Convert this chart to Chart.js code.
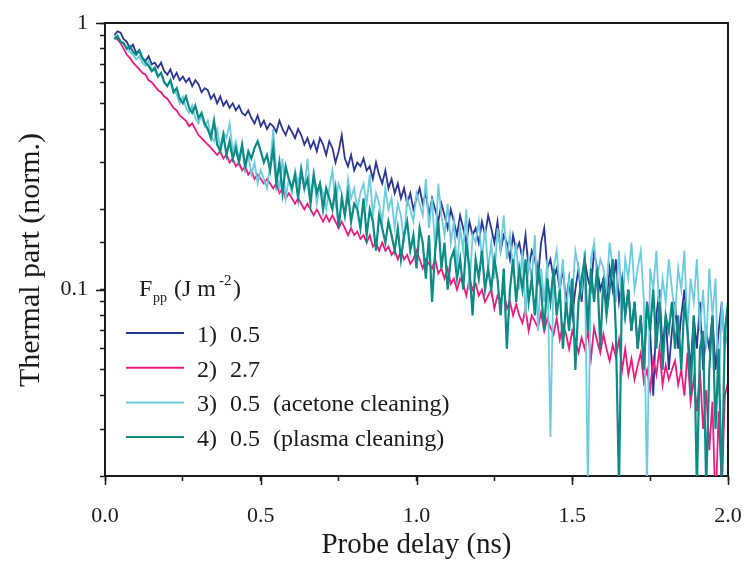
<!DOCTYPE html>
<html>
<head>
<meta charset="utf-8">
<script src="https://cdn.jsdelivr.net/npm/chart.js@4.4.1/dist/chart.umd.min.js"></script>
<style>
  html, body { margin: 0; padding: 0; background: #fff; }
  #wrap { width: 745px; height: 563px; }
</style>
</head>
<body>
<div id="wrap"><canvas id="thermalChart" width="745" height="563"></canvas></div>
<script>
// probe delay grid in ns: 0.03 ... 2.00, step 0.01
const delays = Array.from({ length: 198 }, (_, i) => +(0.03 + i * 0.01).toFixed(2))

const fluence05 = [
  .90,.93,.92,.87,.85,.80,.83,.77,.79,.74,
  .72,.75,.70,.71,.68,.71,.66,.64,.67,.62,
  .65,.61,.63,.60,.62,.58,.61,.59,.55,.57,
  .56,.52,.54,.50,.53,.49,.51,.48,.50,.47,
  .49,.46,.45,.47,.44,.42,.45,.41,.43,.40,
  .42,.41,.39,.43,.40,.38,.41,.39,.37,.40,
  .38,.35,.37,.34,.36,.33,.37,.35,.32,.36,
  .34,.30,.33,.38,.31,.29,.32,.28,.30,.29,
  .31,.28,.29,.26,.30,.27,.25,.28,.24,.26,
  .23,.25,.22,.24,.21,.23,.20,.22,.24,.21,
  .23,.19,.22,.20,.18,.21,.19,.17,.20,.18,
  .16,.19,.17,.15,.18,.16,.17,.15,.18,.16,
  .19,.17,.15,.18,.14,.16,.15,.13,.16,.14,
  .15,.13,.16,.12,.14,.13,.11,.15,.17,.12,
  .13,.11,.12,.10,.12,.09,.11,.08,.10,.12,
  .09,.13,.11,.10,.14,.12,.10,.11,.09,.12,
  .10,.13,.09,.11,.08,.10,.07,.09,.06,.08,
  .05,.09,.07,.04,.08,.10,.06,.08,.05,.07,
  .09,.06,.08,.10,.07,.05,.08,.06,.09,.05,
  .07,.06,.08,.05,.07,.09,.06,.08
]

const fluence27 = [
  .88,.87,.84,.80,.76,.74,.71,.69,.67,.65,
  .64,.61,.60,.58,.56,.55,.53,.52,.50,.48,
  .47,.45,.44,.43,.41,.42,.40,.38,.37,.36,
  .35,.34,.33,.32,.33,.31,.32,.30,.31,.29,
  .30,.28,.29,.27,.28,.26,.27,.26,.25,.26,
  .25,.24,.25,.23,.24,.22,.23,.22,.21,.22,
  .21,.20,.21,.20,.19,.20,.19,.18,.19,.18,
  .19,.18,.17,.18,.17,.16,.17,.16,.165,.155,
  .16,.15,.16,.145,.15,.14,.15,.14,.145,.135,
  .14,.13,.14,.13,.135,.125,.13,.14,.13,.12,
  .13,.125,.12,.13,.115,.12,.11,.12,.105,.11,
  .10,.11,.105,.095,.11,.10,.105,.095,.10,.09,
  .095,.10,.085,.095,.09,.10,.085,.09,.08,.088,
  .08,.075,.085,.07,.08,.076,.072,.082,.07,.078,
  .072,.068,.078,.065,.074,.068,.06,.07,.064,.058,
  .066,.06,.07,.055,.072,.064,.058,.068,.06,.054,
  .062,.056,.065,.05,.06,.048,.055,.046,.052,.058,
  .045,.05,.042,.055,.048,.06,.044,.052,.046,.05,
  .054,.044,.05,.04,.058,.038,.046,.035,.05,.03,
  .042,.025,.038,.015,.035,.018,.04,.045
]

const acetone05 = [
  .88,.90,.86,.83,.80,.78,.76,.73,.75,.71,
  .69,.72,.67,.66,.63,.65,.60,.58,.61,.56,
  .54,.50,.53,.48,.46,.49,.44,.42,.45,.41,
  .43,.38,.36,.40,.34,.39,.37,.42,.33,.36,
  .31,.34,.28,.32,.27,.30,.25,.28,.26,.24,
  .29,.40,.27,.24,.31,.22,.26,.23,.28,.25,
  .29,.24,.31,.22,.27,.21,.25,.23,.20,.24,
  .28,.21,.25,.23,.19,.26,.22,.24,.20,.23,
  .25,.21,.27,.19,.23,.21,.18,.24,.20,.22,
  .17,.21,.19,.15,.22,.20,.18,.23,.21,.19,
  .26,.17,.22,.14,.25,.19,.16,.21,.15,.18,
  .12,.17,.14,.20,.10,.16,.15,.18,.13,.17,
  .12,.15,.11,.17,.14,.19,.13,.16,.12,.15,
  .10,.14,.08,.13,.11,.16,.07,.12,.09,.13,
  .028,.12,.14,.10,.13,.08,.11,.095,.14,.12,
  .10,.14,.018,.13,.15,.11,.13,.12,.10,.15,
  .12,.09,.14,.08,.13,.11,.15,.10,.12,.14,
  .09,.018,.12,.10,.14,.08,.11,.09,.13,.10,
  .08,.12,.10,.14,.07,.11,.09,.13,.07,.10,
  .06,.12,.08,.11,.04,.09,.06,.08
]

const plasma05 = [
  .87,.89,.85,.84,.80,.82,.78,.76,.79,.74,
  .71,.69,.66,.68,.63,.65,.60,.58,.61,.55,
  .57,.52,.50,.53,.48,.46,.49,.44,.46,.42,
  .40,.37,.43,.35,.33,.38,.32,.36,.31,.34,
  .30,.35,.29,.33,.31,.34,.36,.33,.30,.32,
  .28,.34,.25,.30,.23,.29,.26,.24,.27,.22,
  .28,.24,.26,.21,.27,.23,.25,.20,.24,.22,
  .20,.24,.17,.22,.19,.23,.18,.21,.20,.17,
  .22,.16,.20,.18,.14,.19,.17,.15,.18,.16,
  .14,.17,.13,.16,.18,.14,.16,.12,.17,.15,
  .11,.16,.09,.14,.18,.12,.15,.10,.13,.14,
  .11,.13,.10,.15,.12,.08,.13,.11,.14,.10,
  .12,.10,.13,.11,.08,.12,.06,.10,.13,.09,
  .12,.10,.13,.09,.11,.08,.12,.10,.07,.11,
  .09,.12,.08,.10,.06,.09,.07,.11,.05,.09,
  .11,.13,.07,.12,.09,.12,.06,.11,.08,.10,
  .13,.07,.018,.11,.08,.10,.07,.09,.06,.08,
  .05,.09,.07,.10,.06,.09,.05,.08,.07,.09,
  .06,.08,.05,.09,.07,.04,.08,.018,.06,.07,
  .018,.05,.08,.03,.06,.018,.07,.09
]

const legendNums = ['1)', '2)', '3)', '4)']
const legendFluence = ['0.5', '2.7', '0.5', '0.5']
const legendNotes = ['', '', '(acetone cleaning)', '(plasma cleaning)']
const colors = ['#2b3593', '#ec1c7e', '#6ccbdf', '#0c8a84']

const yMajor = [1, 0.1]
const xMajor = [0, 0.5, 1, 1.5, 2]
const yTitle = 'Thermal part (norm.)'

const serif = "'Liberation Serif', 'Times New Roman', serif"
const ink = '#1a1a1a'
const series = [fluence05, fluence27, acetone05, plasma05]

const isMajorY = (v) => yMajor.some((m) => Math.abs(v - m) < 1e-9)
const isMajorX = (v) => xMajor.some((m) => Math.abs(v - m) < 1e-9)

// frame, longer major ticks, y title and legend
const extras = {
  id: 'extras',
  afterDraw(chart) {
    const { ctx, chartArea: a, scales } = chart
    ctx.save()
    ctx.strokeStyle = ink
    ctx.lineWidth = 2
    ctx.beginPath()
    ctx.moveTo(a.left, a.top)
    ctx.lineTo(a.right, a.top)
    ctx.lineTo(a.right, a.bottom)
    ctx.stroke()

    ctx.lineWidth = 1.5
    ctx.beginPath()
    yMajor.forEach((v) => {
      const y = Math.round(scales.y.getPixelForValue(v)) + 0.5
      ctx.moveTo(a.left - 9, y)
      ctx.lineTo(a.left, y)
    })
    xMajor.forEach((v) => {
      const x = Math.round(scales.x.getPixelForValue(v)) + 0.5
      ctx.moveTo(x, a.bottom)
      ctx.lineTo(x, a.bottom + 9)
    })
    ctx.stroke()

    ctx.fillStyle = ink
    ctx.save()
    ctx.translate(31, 260)
    ctx.rotate(-Math.PI / 2)
    ctx.textAlign = 'center'
    ctx.textBaseline = 'middle'
    ctx.font = '30px ' + serif
    ctx.fillText(yTitle, 0, 0)
    ctx.restore()

    // legend
    ctx.textBaseline = 'alphabetic'
    ctx.font = '24px ' + serif
    ctx.fillText('F', 139, 296)
    ctx.font = '14px ' + serif
    ctx.fillText('pp', 153, 302)
    ctx.font = '24px ' + serif
    ctx.fillText('(J m', 174, 296)
    ctx.font = '15px ' + serif
    ctx.fillText('-2', 219, 285)
    ctx.font = '24px ' + serif
    ctx.fillText(')', 233, 296)

    chart.data.datasets.forEach((ds, i) => {
      const y = 333 + i * 34.7
      ctx.strokeStyle = ds.borderColor
      ctx.lineWidth = 2
      ctx.beginPath()
      ctx.moveTo(126, y)
      ctx.lineTo(184, y)
      ctx.stroke()
      ctx.font = '24px ' + serif
      ctx.fillStyle = ink
      ctx.fillText(legendNums[i], 197, y + 9)
      ctx.fillText(legendFluence[i], 230, y + 9)
      if (legendNotes[i]) ctx.fillText(legendNotes[i], 273, y + 9)
    })
    ctx.restore()
  },
}

new Chart(document.getElementById('thermalChart'), {
  type: 'line',
  data: {
    datasets: series.map((vals, i) => ({
      label: legendNums[i] + ' ' + legendFluence[i] + (legendNotes[i] ? ' ' + legendNotes[i] : ''),
      data: delays.map((t, k) => ({ x: t, y: vals[k] })),
      borderColor: colors[i],
      borderWidth: i === 3 ? 2.2 : 1.8,
      pointRadius: 0,
      tension: 0,
      order: 4 - i,
    })),
  },
  options: {
    responsive: false,
    animation: false,
    layout: { padding: { top: 23, right: 17, left: 0, bottom: 0 } },
    plugins: { legend: { display: false }, tooltip: { enabled: false } },
    scales: {
      x: {
        type: 'linear',
        min: 0,
        max: 2,
        afterFit: (s) => {
          s.height = 87
          s.paddingLeft = 0
          s.paddingRight = 0
        },
        border: { display: true, color: ink, width: 2 },
        grid: { drawOnChartArea: false, drawTicks: true, tickLength: 5, color: ink, tickWidth: 1.5 },
        ticks: {
          stepSize: 0.25,
          autoSkip: false,
          maxRotation: 0,
          padding: 22,
          color: ink,
          font: { family: serif, size: 22 },
          callback: (v) => (isMajorX(v) ? v.toFixed(1) : ''),
        },
        title: {
          display: true,
          text: 'Probe delay (ns)',
          color: ink,
          font: { family: serif, size: 29 },
          padding: { top: 0, bottom: 0 },
        },
      },
      y: {
        type: 'logarithmic',
        min: 0.02,
        max: 1,
        afterFit: (s) => {
          s.width = 105
          s.paddingTop = 0
          s.paddingBottom = 0
        },
        border: { display: true, color: ink, width: 2 },
        grid: { drawOnChartArea: false, drawTicks: true, tickLength: 5, color: ink, tickWidth: 1.5 },
        ticks: {
          autoSkip: false,
          padding: 12,
          color: ink,
          font: { family: serif, size: 22 },
          callback: (v) => (isMajorY(v) ? (v === 1 ? '1' : '0.1') : ''),
        },
      },
    },
  },
  plugins: [extras],
})
</script>
</body>
</html>
